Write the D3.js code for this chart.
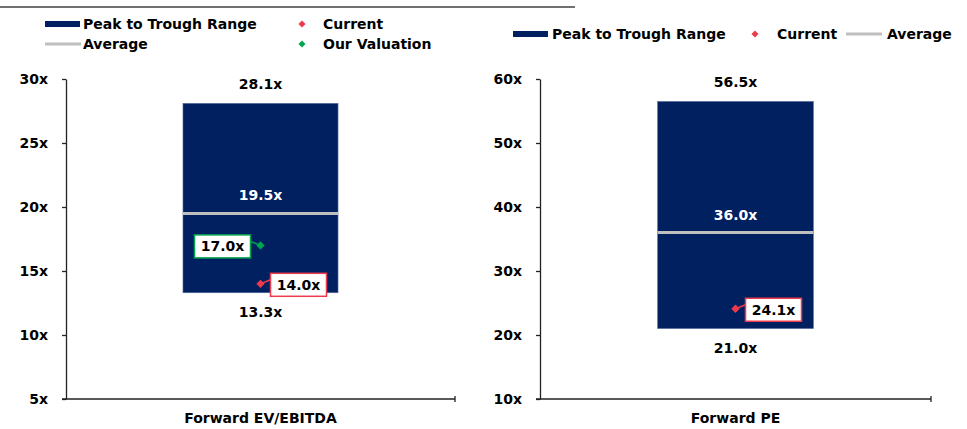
<!DOCTYPE html>
<html>
<head>
<meta charset="utf-8">
<script src="https://cdn.jsdelivr.net/npm/d3@7"></script>
<style>
  body { margin: 0; background: #fff; }
  svg text { font-family: Verdana, "DejaVu Sans", sans-serif; font-weight: bold; font-size: 14px; fill: #000; }
</style>
</head>
<body>
<div class="svg-container"></div>
<script>
// chart values
const categories = ['Forward EV/EBITDA', 'Forward PE'];
const peak = [28.1, 56.5];
const trough = [13.3, 21.0];
const average = [19.5, 36.0];
const current = [14.0, 24.1];
const ourValuation = [17.0, null];
const yDomains = [[5, 30], [10, 60]];
const yTicks = [[5, 10, 15, 20, 25, 30], [10, 20, 30, 40, 50, 60]];

const navy = '#002060';
const grey = '#bfbfbf';
const red = '#ee3b4b';
const green = '#00a550';

const svgWidth = 967;
const svgHeight = 429;
const svg = d3.select('.svg-container')
  .append('svg')
  .attr('width', svgWidth)
  .attr('height', svgHeight);

// panel layout (left / right)
const panels = [
  { left: 66, right: 455, top: 79, bottom: 399 },
  { left: 540, right: 931, top: 79, bottom: 399 },
];

const fmt = (d) => d.toFixed(1) + 'x';
const diamond = d3.symbol().type(d3.symbolDiamond2).size(44);

// thin rule on top of left panel
svg.append('line')
  .attr('x1', 0).attr('x2', 575)
  .attr('y1', 7).attr('y2', 7)
  .attr('stroke', '#404040').attr('stroke-width', 1.5);

panels.forEach((p, i) => {
  const g = svg.append('g');
  const x = d3.scaleBand().domain([categories[i]]).range([p.left, p.right]).paddingInner(0.43).paddingOuter(0.43);
  const y = d3.scaleLinear().domain(yDomains[i]).range([p.bottom, p.top]);
  const cx = x(categories[i]) + x.bandwidth() / 2;

  // bar (range)
  g.append('rect')
    .attr('x', x(categories[i]))
    .attr('width', x.bandwidth())
    .attr('y', y(peak[i]))
    .attr('height', y(trough[i]) - y(peak[i]))
    .attr('fill', navy)
    .attr('stroke', '#5a74a8')
    .attr('stroke-width', 0.6);

  // average line
  g.append('line')
    .attr('x1', x(categories[i])).attr('x2', x(categories[i]) + x.bandwidth())
    .attr('y1', y(average[i])).attr('y2', y(average[i]))
    .attr('stroke', grey).attr('stroke-width', 3);

  // value labels
  g.append('text').attr('x', cx).attr('y', y(peak[i]) - 14).attr('text-anchor', 'middle').text(fmt(peak[i]));
  g.append('text').attr('x', cx).attr('y', y(trough[i]) + 24).attr('text-anchor', 'middle').text(fmt(trough[i]));
  g.append('text').attr('x', cx).attr('y', y(average[i]) - 13).attr('text-anchor', 'middle')
    .style('fill', '#fff').text(fmt(average[i]));

  // point markers with callout boxes
  const callout = (value, color, side) => {
    const my = y(value);
    const bx = cx + side * 38;
    const bw = 56, bh = 23;
    const edge = bx - side * bw / 2;
    g.append('line')
      .attr('x1', cx).attr('y1', my)
      .attr('x2', edge).attr('y2', my - 4)
      .attr('stroke', color).attr('stroke-width', 1.5);
    g.append('rect')
      .attr('x', bx - bw / 2).attr('y', my + 1 - bh / 2)
      .attr('width', bw).attr('height', bh)
      .attr('fill', '#fff').attr('stroke', color).attr('stroke-width', 1.5);
    g.append('text').attr('x', bx).attr('y', my + 1 + 5)
      .attr('text-anchor', 'middle').text(fmt(value));
    g.append('path').attr('d', diamond).attr('transform', `translate(${cx},${my})`).attr('fill', color);
  };
  if (ourValuation[i] != null) callout(ourValuation[i], green, -1);
  callout(current[i], red, 1);

  // axes
  const yAxis = g.append('g')
    .attr('transform', `translate(${p.left},0)`)
    .call(d3.axisLeft(y).tickValues(yTicks[i]).tickSize(4).tickSizeOuter(0).tickPadding(14).tickFormat((d) => d + 'x'));
  const xAxis = g.append('g')
    .attr('transform', `translate(0,${p.bottom})`)
    .call(d3.axisBottom(x).tickValues([]).tickSizeOuter(3));
  [yAxis, xAxis].forEach((a) => {
    a.selectAll('path, line').attr('stroke', '#222').attr('stroke-width', 1.3);
    a.selectAll('text').attr('font-family', null).attr('font-size', null).attr('fill', null);
  });
  xAxis.select('.domain').attr('d', `M${p.left - 4},0 H${p.right} M${p.right},-3 V3`);

  g.append('text').attr('x', cx).attr('y', 423).attr('text-anchor', 'middle').text(categories[i]);
});

// legends
function legendBox(g, lx, ly) {
  g.append('rect').attr('x', lx).attr('y', ly - 3).attr('width', 35).attr('height', 6).attr('fill', navy);
}
function legendLine(g, lx, ly) {
  g.append('line').attr('x1', lx).attr('x2', lx + 36).attr('y1', ly).attr('y2', ly).attr('stroke', grey).attr('stroke-width', 3);
}
function legendDot(g, lx, ly, color) {
  g.append('path').attr('d', d3.symbol().type(d3.symbolDiamond2).size(32)).attr('transform', `translate(${lx},${ly})`).attr('fill', color);
}
function legendText(g, lx, ly, t) {
  g.append('text').attr('x', lx).attr('y', ly + 5).text(t);
}

const lg = svg.append('g');
legendBox(lg, 45, 24); legendText(lg, 83, 24, 'Peak to Trough Range');
legendLine(lg, 45, 44); legendText(lg, 83, 44, 'Average');
legendDot(lg, 302, 24, red); legendText(lg, 323, 24, 'Current');
legendDot(lg, 302, 44, green); legendText(lg, 323, 44, 'Our Valuation');

const rg = svg.append('g');
legendBox(rg, 513, 34); legendText(rg, 552, 34, 'Peak to Trough Range');
legendDot(rg, 755, 34, red); legendText(rg, 777, 34, 'Current');
legendLine(rg, 846, 34); legendText(rg, 887, 34, 'Average');
</script>
</body>
</html>
